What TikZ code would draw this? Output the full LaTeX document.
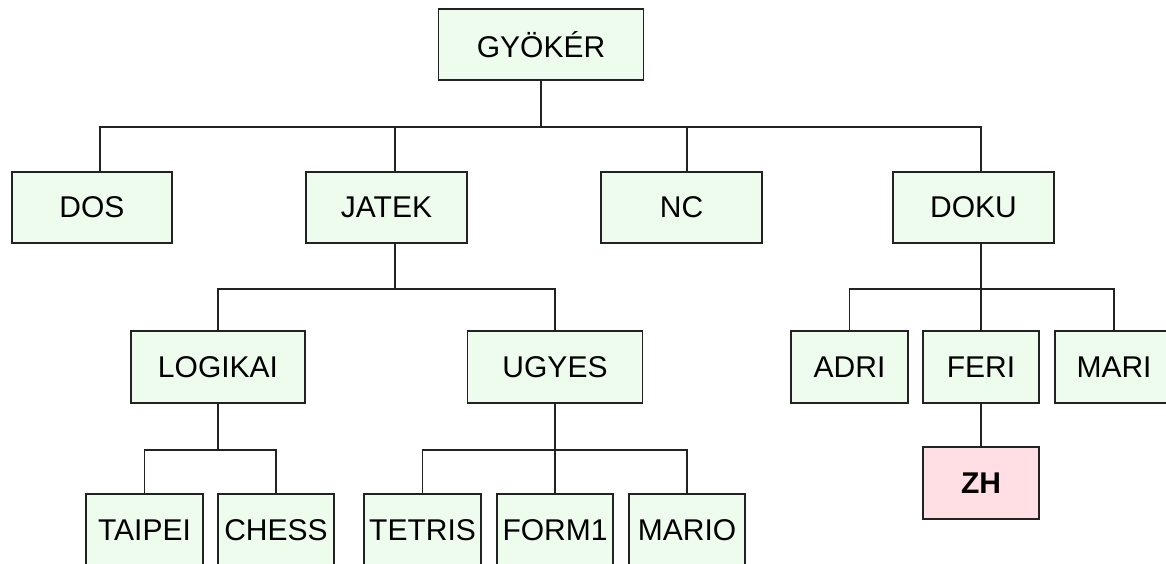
\documentclass[tikz,border=0pt]{standalone}
\usepackage{fontspec}
\setmainfont{Liberation Sans}
\definecolor{boxfill}{HTML}{EEFCEE}
\definecolor{zhfill}{HTML}{FFDFE3}
\definecolor{edge}{HTML}{222222}
\begin{document}
\begin{tikzpicture}[x=1pt,y=-1pt,
  tbox/.style={draw=edge, line width=1.6pt, fill=boxfill, rectangle,
    inner sep=0pt, minimum height=71pt, font=\fontsize{30}{30}\selectfont},
  conn/.style={draw=edge, line width=1.6pt}]
\useasboundingbox (0,0) rectangle (1166,563);
\clip (0,0) rectangle (1166,563);
% level 0
\node[tbox, minimum width=205pt] (gyoker) at (541,44.5) {GYÖKÉR};
% level 1
\node[tbox, minimum width=160pt] (dos)   at (92,207.5)    {DOS};
\node[tbox, minimum width=161pt] (jatek) at (386.5,207.5) {JATEK};
\node[tbox, minimum width=161pt] (nc)    at (681.5,207.5) {NC};
\node[tbox, minimum width=161pt] (doku)  at (973.5,207.5) {DOKU};
% level 2
\node[tbox, minimum width=174pt, minimum height=72pt] (logikai) at (218,367)   {LOGIKAI};
\node[tbox, minimum width=175pt, minimum height=72pt] (ugyes)   at (555,367)   {UGYES};
\node[tbox, minimum width=117pt, minimum height=72pt] (adri)    at (849.5,367) {ADRI};
\node[tbox, minimum width=116pt, minimum height=72pt] (feri)    at (981,367)   {FERI};
\node[tbox, minimum width=118pt, minimum height=72pt] (mari)    at (1114,367)  {MARI};
% level 3
\node[tbox, fill=zhfill, minimum width=116pt, minimum height=72pt,
  font=\fontsize{30}{30}\selectfont\bfseries] (zh) at (981,483) {ZH};
\node[tbox, minimum width=117pt, minimum height=72pt] (taipei) at (144.5,530) {TAIPEI};
\node[tbox, minimum width=116pt, minimum height=72pt] (chess)  at (276,530)   {CHESS};
\node[tbox, minimum width=117pt, minimum height=72pt] (tetris) at (422.5,530) {TETRIS};
\node[tbox, minimum width=116pt, minimum height=72pt] (form1)  at (555,530)   {FORM1};
\node[tbox, minimum width=116pt, minimum height=72pt] (mario)  at (687,530)   {MARIO};
% bus levels
\coordinate (y1) at (0,127);
\coordinate (y2) at (0,289);
\coordinate (y3) at (0,450);
\coordinate (bus1) at (gyoker.south |- y1);
\coordinate (bus2) at ([xshift=8.5pt]jatek.south |- y2);
\coordinate (bus3) at ([xshift=7.5pt]doku.south |- y2);
\coordinate (bus4) at (logikai.south |- y3);
\coordinate (bus5) at (ugyes.south |- y3);
% root -> level 1
\draw[conn] (gyoker.south) -- (bus1);
\draw[conn] ([xshift=8pt]dos.north) |- (bus1) -| ([xshift=7.5pt]doku.north);
\draw[conn] ([xshift=8.5pt]jatek.north) -- ([xshift=8.5pt]jatek.north |- y1);
\draw[conn] ([xshift=5.5pt]nc.north) -- ([xshift=5.5pt]nc.north |- y1);
% jatek -> logikai, ugyes
\draw[conn] ([xshift=8.5pt]jatek.south) -- (bus2);
\draw[conn] (logikai.north) |- (bus2) -| (ugyes.north);
% doku -> adri, feri, mari
\draw[conn] ([xshift=7.5pt]doku.south) -- (bus3);
\draw[conn] (adri.north) |- (bus3) -| (mari.north);
\draw[conn] (feri.north) -- (bus3);
% feri -> zh
\draw[conn] (feri.south) -- (zh.north);
% logikai -> taipei, chess
\draw[conn] (logikai.south) -- (bus4);
\draw[conn] (taipei.north) |- (bus4) -| (chess.north);
% ugyes -> tetris, form1, mario
\draw[conn] (ugyes.south) -- (bus5);
\draw[conn] (tetris.north) |- (bus5) -| (mario.north);
\draw[conn] (form1.north) -- (bus5);
\end{tikzpicture}
\end{document}
